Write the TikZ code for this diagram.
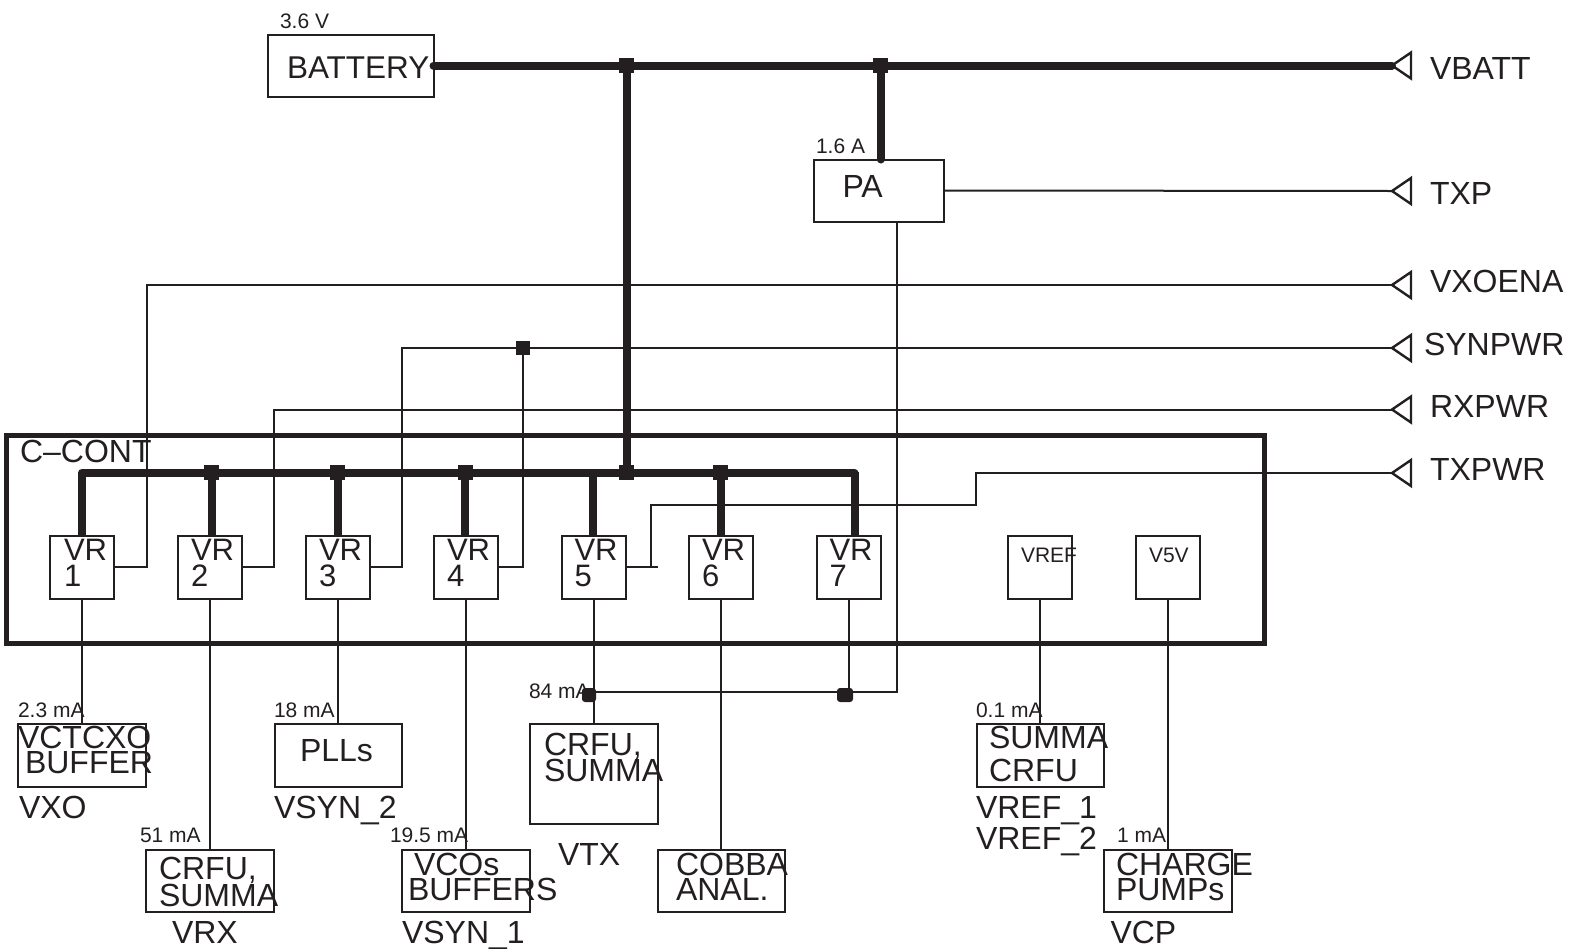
\documentclass[tikz,border=0pt]{standalone}
\usepackage{fontspec}
\setmainfont{Liberation Sans}
\definecolor{inkc}{HTML}{231F20}
\newcommand{\mk}[1]{\fontsize{#1}{#1}\selectfont}
\tikzset{
 x=1pt,y=-1pt,
 ink/.style={draw=inkc},
 thinw/.style={ink,line width=2pt},
 busw/.style={ink,line width=8pt,line cap=round},
 boxn/.style={thinw,fill=none,inner sep=0pt,outer sep=0pt},
 lab/.style={anchor=base west,inner sep=0pt,outer sep=0pt,text=inkc,font=\mk{32}},
 vrlab/.style={lab,font=\mk{31}},
 small/.style={lab,font=\mk{21}},
 tiny/.style={lab,font=\mk{21}},
 dotn/.style={fill=inkc,minimum size=15pt,inner sep=0pt,outer sep=0pt,rectangle},
 rdot/.style={fill=inkc,minimum size=14pt,inner sep=0pt,outer sep=0pt,rectangle,rounded corners=3pt},
 termt/.style={thinw,line width=2.4pt,line join=miter},
}
\newcommand{\bx}[5]{\node[boxn,minimum width=#4pt,minimum height=#5pt] (#1) at (#2,#3) {};}
\begin{document}
\begin{tikzpicture}
\useasboundingbox (0,0) rectangle (1570,948);
% C-CONT frame
\node[boxn,line width=5pt,minimum width=1258pt,minimum height=208pt] (ccont) at (635.5,539) {};
% boxes
\bx{battery}{350.5}{65.5}{166}{62}
\bx{pa}{879}{190.5}{130}{62}
\foreach \n/\c in {vr1/82,vr2/210,vr3/338,vr4/465.5,vr5/593.5,vr6/721,vr7/849,vref/1040,vfive/1168}{
 \node[boxn,minimum width=64pt,minimum height=63pt] (\n) at (\c,567) {};
}
\bx{vctcxo}{82}{755}{128}{63}
\bx{plls}{338}{755}{127}{63}
\bx{crfutx}{593.5}{773.5}{128}{100}
\bx{summa}{1040}{755}{127}{63}
\bx{crfurx}{210}{880.5}{128}{62}
\bx{vcos}{465.5}{880.5}{128}{62}
\bx{cobba}{721}{880.5}{127}{62}
\bx{charge}{1168}{880.5}{128}{62}
% terminals and junctions
\foreach \n/\y in {tvbatt/65.5,ttxp/191,tvxo/285,tsyn/348,trx/409.5,ttx/473}{
 \coordinate (\n) at (1392,\y);
 \draw[termt] (\n) -- ++(19,-13) -- ++(0,26) -- cycle;
}
\coordinate (busa) at (626.5,65.5);
\coordinate (busb) at (880.5,65.5);
\coordinate (lowl) at (82,472.5);
\coordinate (lowr) at (854.5,472.5);
\coordinate (lowm) at (626.5,472.5);
\coordinate (tapjoin) at (896.5,692);
% power buses
\draw[busw] (battery.east) -- (tvbatt);
\draw[busw] (busa) -- (lowm);
\draw[busw] (busb) -- (busb |- pa.north);
\draw[busw] (lowl) -- (lowr);
\foreach \n/\x in {vr1/82,vr2/211.5,vr3/337.5,vr4/465,vr5/592.5,vr6/720.5,vr7/854.5}{
 \coordinate (tp) at (\x,472);
 \draw[ink,line width=8pt] (tp) -- (tp |- \n.north);
}
\foreach \x/\y/\m in {626.5/65.5/ja,880.5/65.5/jb,211.5/472.5/jc,337.5/472.5/jd,465/472.5/je,626.5/472.5/jf,720.5/472.5/jg}{
 \node[dotn] (\m) at (\x,\y) {};
}
% control lines
\draw[thinw] (pa.east) -- (ttxp);
\draw[thinw] (tvxo) -| (146.5,567) -- (vr1.east);
\draw[thinw] (trx) -| (273.5,567) -- (vr2.east);
\draw[thinw] (tsyn) -| (401.5,567) -- (vr3.east);
\node[dotn,minimum size=14pt] (syn) at (522.5,348) {};
\draw[thinw] (syn.center) -- (522.5,567) -- (vr4.east);
\draw[thinw] (vr5.east) -- (657.5,567);
\draw[thinw] (650.5,567) |- (975.5,504.5) |- (ttx);
% supply lines
\foreach \a/\b in {vr1/vctcxo,vr2/crfurx,vr3/plls,vr4/vcos,vr5/crfutx,vr6/cobba,vref/summa,vfive/charge}{
 \draw[thinw] (\a.south) -- (\a.south |- \b.north);
}
\node[rdot,minimum width=14pt] (jtx) at (589,695) {};
\node[rdot,minimum width=16pt] (jr) at (845,695) {};
\draw[thinw] (vr7.south) -- (849,695);
\draw[thinw] (jtx.center |- tapjoin) -- (tapjoin) -- (tapjoin |- pa.south);
% labels
\node[small] (l1) at (280,28) {3.6 V};
\node[lab,font=\mk{31.5}] (l2) at (287,78) {BATTERY};
\node[small] (l3) at (816,153) {1.6 A};
\node[lab] (l4) at (842.5,197.5) {PA};
\node[lab] (l5) at (1430,79) {VBATT};
\node[lab] (l6) at (1430,204) {TXP};
\node[lab] (l7) at (1430,292) {VXOENA};
\node[lab] (l8) at (1424,355) {SYNPWR};
\node[lab] (l9) at (1430,417) {RXPWR};
\node[lab] (l10) at (1430,480) {TXPWR};
\node[lab] (l11) at (20,462) {C--CONT};
\foreach \x/\num in {64/1,191/2,319/3,447/4,574.5/5,702/6,829.5/7}{
 \node[vrlab] (vt\num) at (\x,560.5) {VR};
 \node[vrlab] (vn\num) at (\x,586) {\num};
}
\node[tiny] (l12) at (1021,562) {VREF};
\node[tiny] (l13) at (1149,562) {V5V};
\node[small] (m1) at (18,717.5) {2.3 mA};
\node[small] (m2) at (274,717.5) {18 mA};
\node[small] (m3) at (529,698) {84 mA};
\node[small] (m4) at (140,842) {51 mA};
\node[small] (m5) at (390,842) {19.5 mA};
\node[small] (m6) at (976,717.5) {0.1 mA};
\node[small] (m7) at (1117,842) {1 mA};
\node[lab] (b1) at (18,748.5) {VCTCXO};
\node[lab] (b2) at (25,773.5) {BUFFER};
\node[lab] (b3) at (300,761.5) {PLLs};
\node[lab] (b4) at (544,755) {CRFU,};
\node[lab] (b5) at (544,781.5) {SUMMA};
\node[lab] (b6) at (989,748.5) {SUMMA};
\node[lab] (b7) at (989,781.5) {CRFU};
\node[lab] (b8) at (159,879) {CRFU,};
\node[lab] (b9) at (159,906) {SUMMA};
\node[lab] (b10) at (414,875) {VCOs};
\node[lab] (b11) at (408,900) {BUFFERS};
\node[lab] (b12) at (676,875) {COBBA};
\node[lab] (b13) at (676,900) {ANAL.};
\node[lab] (b14) at (1116,875) {CHARGE};
\node[lab] (b15) at (1116,900) {PUMPs};
\node[lab] (n1) at (19,818) {VXO};
\node[lab] (n2) at (274,818) {VSYN\_2};
\node[lab] (n3) at (558,865) {VTX};
\node[lab] (n4) at (172,943) {VRX};
\node[lab] (n5) at (402,943) {VSYN\_1};
\node[lab] (n6) at (976,818) {VREF\_1};
\node[lab] (n7) at (976,849) {VREF\_2};
\node[lab] (n8) at (1110.5,943) {VCP};
\end{tikzpicture}
\end{document}
